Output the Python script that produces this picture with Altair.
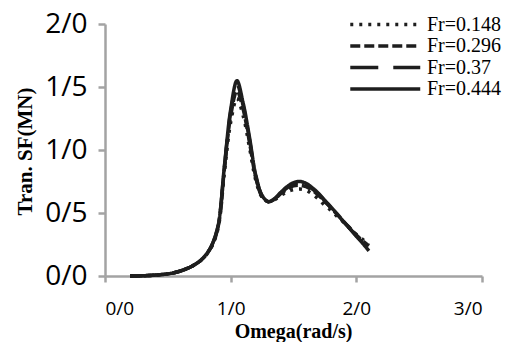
import altair as alt
import pandas as pd

# Frequency grid (rad/s)
omega = [0.20, 0.25, 0.30, 0.35, 0.40, 0.45, 0.50, 0.55, 0.60, 0.65,
         0.70, 0.75, 0.80, 0.85, 0.90, 0.95, 1.00, 1.05, 1.10, 1.15,
         1.20, 1.25, 1.30, 1.35, 1.40, 1.45, 1.50, 1.55, 1.60, 1.65,
         1.70, 1.75, 1.80, 1.85, 1.90, 1.95, 2.00, 2.05, 2.10]

# Transverse shear force (MN) for each Froude number
sf_0148 = [0.000, 0.000, 0.002, 0.004, 0.007, 0.011, 0.017, 0.026, 0.040, 0.058,
           0.082, 0.113, 0.160, 0.235, 0.380, 0.820, 1.220, 1.410, 1.270, 1.020,
           0.760, 0.625, 0.590, 0.605, 0.640, 0.670, 0.685, 0.690, 0.680, 0.650,
           0.610, 0.560, 0.520, 0.470, 0.425, 0.375, 0.330, 0.290, 0.250]
sf_0296 = [0.000, 0.000, 0.002, 0.004, 0.007, 0.011, 0.017, 0.026, 0.040, 0.058,
           0.082, 0.114, 0.162, 0.240, 0.390, 0.850, 1.270, 1.470, 1.320, 1.060,
           0.780, 0.630, 0.590, 0.610, 0.655, 0.690, 0.715, 0.720, 0.710, 0.680,
           0.640, 0.590, 0.540, 0.485, 0.430, 0.380, 0.325, 0.280, 0.240]
sf_037 = [0.000, 0.000, 0.002, 0.004, 0.007, 0.011, 0.017, 0.026, 0.040, 0.058,
          0.082, 0.115, 0.164, 0.243, 0.395, 0.860, 1.300, 1.520, 1.350, 1.080,
          0.790, 0.635, 0.590, 0.612, 0.660, 0.700, 0.730, 0.740, 0.725, 0.690,
          0.650, 0.595, 0.540, 0.485, 0.430, 0.375, 0.320, 0.270, 0.220]
sf_0444 = [0.000, 0.000, 0.002, 0.004, 0.007, 0.011, 0.017, 0.026, 0.040, 0.058,
           0.082, 0.115, 0.165, 0.245, 0.400, 0.870, 1.320, 1.550, 1.370, 1.100,
           0.800, 0.640, 0.590, 0.615, 0.665, 0.710, 0.740, 0.750, 0.735, 0.700,
           0.655, 0.600, 0.545, 0.490, 0.430, 0.375, 0.315, 0.260, 0.200]

series_names = ["Fr=0.148", "Fr=0.296", "Fr=0.37", "Fr=0.444"]
series_values = [sf_0148, sf_0296, sf_037, sf_0444]
dash_styles = [[3, 6], [10, 4], [28, 15], [1, 0]]

x_ticks = [0, 1, 2, 3]
y_ticks = [0, 0.5, 1.0, 1.5, 2.0]

rows = []
for name, values in zip(series_names, series_values):
    for w, v in zip(omega, values):
        rows.append({"omega": w, "sf": v, "series": name})
df = pd.DataFrame(rows)

axis_grey = "#a3a3a3"
slash_label = "replace(format(datum.value, '.1f'), '.', '/')"

# long horizontal legend swatch that ends at the symbol's right edge
legend_swatch = "M-7,0H1"

chart = alt.Chart(df).mark_line(
    stroke="#1e1e1e", strokeWidth=3.5, interpolate="catmull-rom"
).encode(
    x=alt.X(
        "omega:Q",
        scale=alt.Scale(domain=[0, 3], nice=False),
        axis=alt.Axis(
            values=x_ticks, labelExpr=slash_label, title="Omega(rad/s)",
            titleFont="Liberation Serif", titleFontWeight="bold", titleFontSize=20,
            titleColor="black", titleX=188, titleY=55, titleBaseline="middle",
            labelFont="Open Sans", labelFontSize=19, labelColor="black",
            labelBaseline="middle", labelPadding=26, tickSize=6,
            domainColor=axis_grey, tickColor=axis_grey,
            domainWidth=2.5, tickWidth=2.5, grid=False,
        ),
    ),
    y=alt.Y(
        "sf:Q",
        scale=alt.Scale(domain=[0, 2], nice=False),
        axis=alt.Axis(
            values=y_ticks, labelExpr=slash_label, title="Tran. SF(MN)",
            titleFont="Liberation Serif", titleFontWeight="bold", titleFontSize=21,
            titleColor="black", titleX=-80, titleY=127, titleBaseline="middle",
            titleAngle=270,
            labelFont="Open Sans", labelFontSize=28, labelColor="black",
            labelPadding=11, tickSize=7,
            domainColor=axis_grey, tickColor=axis_grey,
            domainWidth=2.5, tickWidth=2.5, grid=False,
        ),
    ),
    strokeDash=alt.StrokeDash(
        "series:N",
        scale=alt.Scale(domain=series_names, range=dash_styles),
        legend=alt.Legend(
            title=None, orient="none", legendX=296, legendY=-10,
            symbolType=legend_swatch, symbolSize=306, symbolStrokeWidth=3.5,
            symbolStrokeColor="#1e1e1e", symbolFillColor="transparent",
            labelFont="Liberation Serif", labelFontSize=20, labelColor="black",
            labelOffset=5, rowPadding=0.5,
        ),
    ),
    order=alt.Order("series:N"),
).properties(
    width=377, height=252,
    autosize=alt.AutoSizeParams(type="none"),
    padding={"left": 105, "top": 24, "right": 32, "bottom": 66},
).configure_view(stroke=None)

chart.save("out.html", embed_options={"renderer": "svg", "actions": False})
